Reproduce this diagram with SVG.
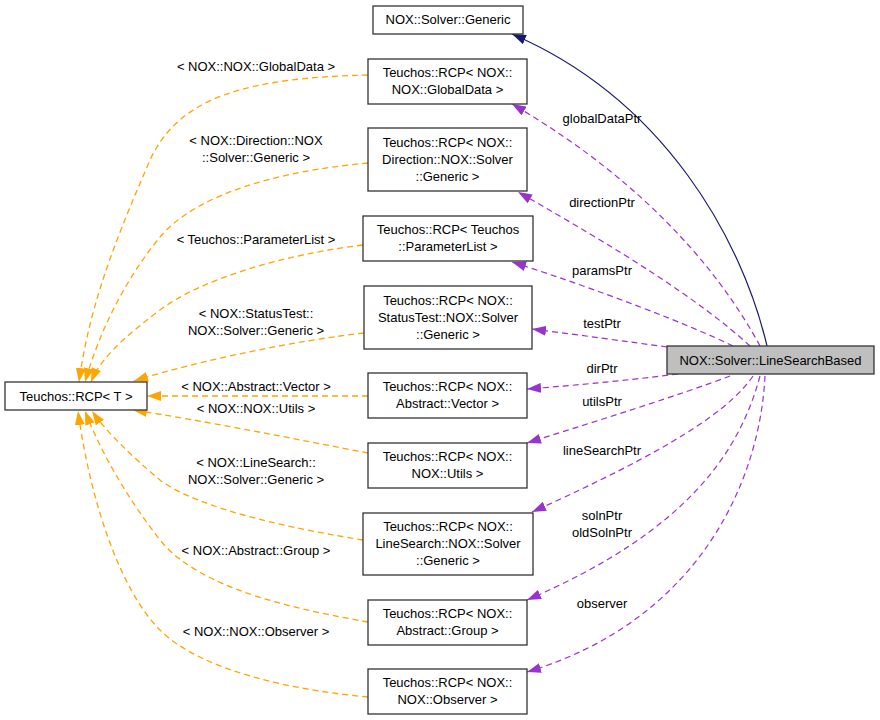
<svg xmlns="http://www.w3.org/2000/svg" width="880" height="720" viewBox="0 0 880 720">
<style>
text{font-family:"Liberation Sans",Arial,Helvetica,sans-serif;font-size:13px;fill:#000;text-anchor:middle}
.box{fill:#fff;stroke:#333;stroke-width:1.3}
.cur{fill:#bfbfbf;stroke:#333;stroke-width:1.3}
.inh{fill:none;stroke:#191970;stroke-width:1.2}
.use{fill:none;stroke:#9a32cd;stroke-width:1.2;stroke-dasharray:6,4}
.tpl{fill:none;stroke:#ffa500;stroke-width:1.3;stroke-dasharray:6,4}
</style>
<defs>
<marker id="aNavy" viewBox="0 0 14 10" refX="14" refY="5" markerWidth="14" markerHeight="10" markerUnits="userSpaceOnUse" orient="auto"><path d="M0,0L14,5L0,10z" fill="#191970"/></marker>
<marker id="aPurple" viewBox="0 0 14 10" refX="14" refY="5" markerWidth="14" markerHeight="10" markerUnits="userSpaceOnUse" orient="auto"><path d="M0,0L14,5L0,10z" fill="#9a32cd"/></marker>
<marker id="aOrange" viewBox="0 0 14 10" refX="14" refY="5" markerWidth="14" markerHeight="10" markerUnits="userSpaceOnUse" orient="auto"><path d="M0,0L14,5L0,10z" fill="#ffa500"/></marker>
</defs>
<rect width="880" height="720" fill="#fff"/>
<g id="edges">
<path class="inh" d="M767,346 C742,240 665,100 512,34" marker-end="url(#aNavy)"/>
<path class="use" d="M760,346 C730,290 660,190 512,104" marker-end="url(#aPurple)"/>
<path class="use" d="M750,346 C700,300 620,250 518,192" marker-end="url(#aPurple)"/>
<path class="use" d="M733,346 C690,325 600,290 512,262" marker-end="url(#aPurple)"/>
<path class="use" d="M667,347 C630,342 580,335 532,329" marker-end="url(#aPurple)"/>
<path class="use" d="M678,374 C630,380 580,385 527,389" marker-end="url(#aPurple)"/>
<path class="use" d="M730,376 C680,395 600,420 527,443" marker-end="url(#aPurple)"/>
<path class="use" d="M753,376 C730,410 670,450 532,512" marker-end="url(#aPurple)"/>
<path class="use" d="M760,376 C740,450 690,530 527,600" marker-end="url(#aPurple)"/>
<path class="use" d="M765,376 C760,480 700,620 527,672" marker-end="url(#aPurple)"/>
<path class="tpl" d="M368,75 C250,78 180,95 150,160 C120,230 90,300 79,382" marker-end="url(#aOrange)"/>
<path class="tpl" d="M368,163 C290,170 200,190 160,237 C125,280 100,330 85,382" marker-end="url(#aOrange)"/>
<path class="tpl" d="M363,245 C280,255 200,280 160,310 C120,340 100,360 91,382" marker-end="url(#aOrange)"/>
<path class="tpl" d="M364,333 C300,340 200,360 134,381" marker-end="url(#aOrange)"/>
<path class="tpl" d="M368,396 L147,396" marker-end="url(#aOrange)"/>
<path class="tpl" d="M368,453 C300,440 200,420 133,410" marker-end="url(#aOrange)"/>
<path class="tpl" d="M363,540 C300,530 200,510 160,480 C130,455 105,430 92,411" marker-end="url(#aOrange)"/>
<path class="tpl" d="M368,622 C300,610 200,590 160,540 C125,495 100,450 85,411" marker-end="url(#aOrange)"/>
<path class="tpl" d="M368,697 C290,690 200,670 160,630 C120,590 90,500 78,411" marker-end="url(#aOrange)"/>
<text x="602" y="123">globalDataPtr</text>
<text x="602" y="207">directionPtr</text>
<text x="602" y="275">paramsPtr</text>
<text x="602" y="328">testPtr</text>
<text x="602" y="373">dirPtr</text>
<text x="602" y="406">utilsPtr</text>
<text x="602" y="455">lineSearchPtr</text>
<text x="602" y="520">solnPtr</text>
<text x="602" y="537">oldSolnPtr</text>
<text x="602" y="608">observer</text>
<text x="256" y="71">&lt; NOX::NOX::GlobalData &gt;</text>
<text x="256" y="145">&lt; NOX::Direction::NOX</text>
<text x="256" y="161.5">::Solver::Generic &gt;</text>
<text x="256" y="244">&lt; Teuchos::ParameterList &gt;</text>
<text x="256" y="318">&lt; NOX::StatusTest::</text>
<text x="256" y="335">NOX::Solver::Generic &gt;</text>
<text x="256" y="391">&lt; NOX::Abstract::Vector &gt;</text>
<text x="256" y="413">&lt; NOX::NOX::Utils &gt;</text>
<text x="256" y="467">&lt; NOX::LineSearch::</text>
<text x="256" y="484">NOX::Solver::Generic &gt;</text>
<text x="256" y="555">&lt; NOX::Abstract::Group &gt;</text>
<text x="256" y="636">&lt; NOX::NOX::Observer &gt;</text>
</g>
<g id="n_generic"><rect class="box" x="373" y="6" width="150" height="28"/><text x="448" y="24">NOX::Solver::Generic</text></g>
<g id="n_globaldata"><rect class="box" x="368" y="59" width="159" height="45"/><text x="447.5" y="77">Teuchos::RCP&lt; NOX::</text><text x="447.5" y="94">NOX::GlobalData &gt;</text></g>
<g id="n_direction"><rect class="box" x="368" y="128" width="159" height="63"/><text x="447.5" y="146.5">Teuchos::RCP&lt; NOX::</text><text x="447.5" y="163.5">Direction::NOX::Solver</text><text x="447.5" y="180.5">::Generic &gt;</text></g>
<g id="n_paramlist"><rect class="box" x="363" y="216" width="170" height="45"/><text x="448" y="234">Teuchos::RCP&lt; Teuchos</text><text x="448" y="251">::ParameterList &gt;</text></g>
<g id="n_statustest"><rect class="box" x="364" y="286" width="168" height="63"/><text x="448" y="304.5">Teuchos::RCP&lt; NOX::</text><text x="448" y="321.5">StatusTest::NOX::Solver</text><text x="448" y="338.5">::Generic &gt;</text></g>
<g id="n_vector"><rect class="box" x="368" y="373" width="159" height="45"/><text x="447.5" y="391">Teuchos::RCP&lt; NOX::</text><text x="447.5" y="408">Abstract::Vector &gt;</text></g>
<g id="n_linesearchbased"><rect class="cur" x="667" y="346" width="207" height="28"/><text x="770.5" y="364.5">NOX::Solver::LineSearchBased</text></g>
<g id="n_utils"><rect class="box" x="368" y="443" width="159" height="45"/><text x="447.5" y="461">Teuchos::RCP&lt; NOX::</text><text x="447.5" y="478">NOX::Utils &gt;</text></g>
<g id="n_linesearch"><rect class="box" x="363" y="513" width="170" height="62"/><text x="448" y="531">Teuchos::RCP&lt; NOX::</text><text x="448" y="548">LineSearch::NOX::Solver</text><text x="448" y="565">::Generic &gt;</text></g>
<g id="n_group"><rect class="box" x="368" y="600" width="159" height="45"/><text x="447.5" y="618">Teuchos::RCP&lt; NOX::</text><text x="447.5" y="635">Abstract::Group &gt;</text></g>
<g id="n_observer"><rect class="box" x="368" y="669" width="159" height="45"/><text x="447.5" y="687">Teuchos::RCP&lt; NOX::</text><text x="447.5" y="704">NOX::Observer &gt;</text></g>
<g id="n_rcpT"><rect class="box" x="5" y="382" width="142" height="28"/><text x="76" y="400.5">Teuchos::RCP&lt; T &gt;</text></g>
</svg>
